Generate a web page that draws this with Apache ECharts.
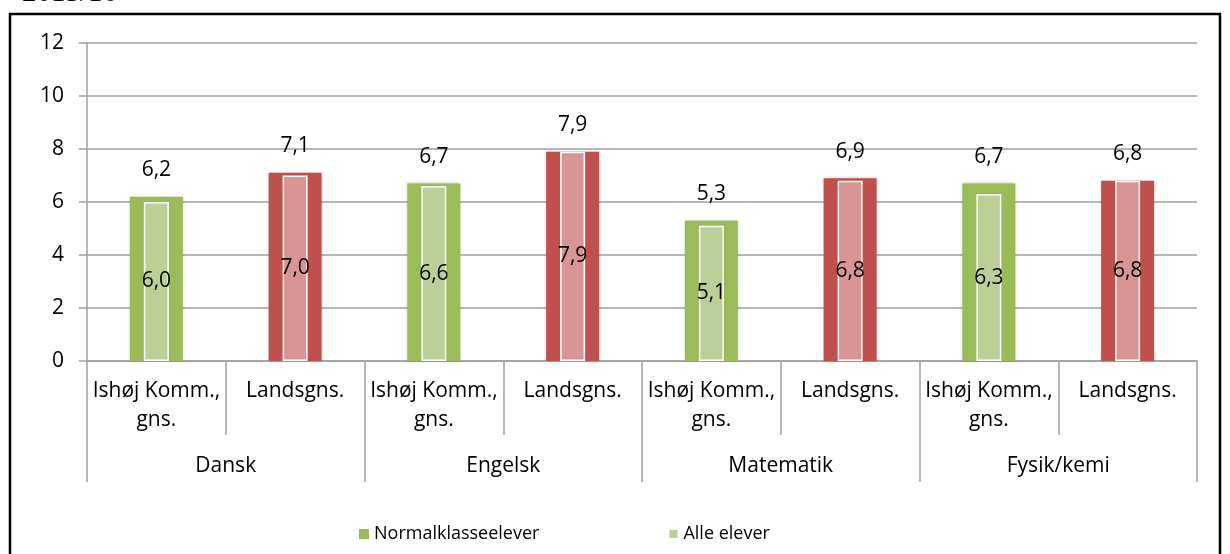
<!DOCTYPE html>
<html>
<head>
<meta charset="utf-8">
<script src="https://cdn.jsdelivr.net/npm/echarts@6/dist/echarts.min.js"></script>
<style>
html,body{margin:0;padding:0;background:#fff;}
#c{width:1230px;height:554px;}
</style>
</head>
<body>
<div id="c"></div>
<script>
// ---- data ----
const categories = ['Ishøj Komm.,\ngns.', 'Landsgns.', 'Ishøj Komm.,\ngns.', 'Landsgns.', 'Ishøj Komm.,\ngns.', 'Landsgns.', 'Ishøj Komm.,\ngns.', 'Landsgns.'];
const subjects = ['Dansk', 'Engelsk', 'Matematik', 'Fysik/kemi'];
const normalklasseelever = [6.2, 7.1, 6.7, 7.9, 5.3, 6.9, 6.7, 6.8];
const alleElever = [6.0, 7.0, 6.6, 7.9, 5.1, 6.8, 6.3, 6.8];
const yTicks = [0, 2, 4, 6, 8, 10, 12];
const seriesNames = ['Normalklasseelever', 'Alle elever'];

const FONT = 'Open Sans';
const GREEN = '#9BBB59', LGREEN = '#BCCF96', RED = '#C0504D', LRED = '#D99594';
const GRAYLINE = '#a0a0a0';
const fmt = v => v.toFixed(1).replace('.', ',');

const chart = echarts.init(document.getElementById('c'), null, {renderer: 'canvas'});
const option = {
  animation: false,
  textStyle: {fontFamily: FONT},
  graphic: [
    {type: 'rect', shape: {x: 10, y: 14, width: 1210, height: 560}, style: {fill: 'none', stroke: '#000', lineWidth: 2.5}, z: 100},
    {type: 'text', left: 22, top: -21, style: {text: '2015/16', font: '29px "Liberation Serif"', fill: '#000'}}
  ],
  grid: {left: 87, right: 33, top: 43, bottom: 193, containLabel: false},
  legend: {
    left: 354, top: 520, itemWidth: 10, itemHeight: 10, itemGap: 128,
    icon: 'rect',
    textStyle: {fontSize: 18, color: '#000', fontFamily: FONT},
    data: seriesNames
  },
  xAxis: [
    {
      type: 'category', data: categories, position: 'bottom',
      axisLine: {lineStyle: {color: GRAYLINE, width: 1.5}},
      axisTick: {show: true, interval: 0, length: 74, lineStyle: {color: GRAYLINE, width: 1.5}},
      axisLabel: {interval: 0, color: '#000', fontSize: 21, lineHeight: 29, margin: 16}
    },
    {
      type: 'category', data: subjects, position: 'bottom',
      axisLine: {show: false},
      axisTick: {show: true, interval: 0, length: 121, lineStyle: {color: GRAYLINE, width: 1.5}},
      axisLabel: {interval: 0, color: '#000', fontSize: 21, lineHeight: 29, margin: 91}
    },
    {
      type: 'category', data: categories, show: false
    }
  ],
  yAxis: {
    type: 'value', min: 0, max: 12, interval: 2,
    axisLine: {show: true, lineStyle: {color: GRAYLINE, width: 1.5}},
    axisTick: {show: true, length: 8, lineStyle: {color: GRAYLINE, width: 1.5}},
    splitLine: {lineStyle: {color: GRAYLINE, width: 1.5}},
    axisLabel: {color: '#000', fontSize: 21, margin: 23,
      formatter: v => yTicks.includes(v) ? String(v) : ''}
  },
  series: [
    {
      name: seriesNames[0], type: 'bar', xAxisIndex: 0, barWidth: 53, z: 2,
      itemStyle: {color: GREEN, shadowBlur: 3, shadowColor: 'rgba(0,0,0,0.25)'},
      data: normalklasseelever.map((v, i) => ({value: v, itemStyle: {color: i % 2 ? RED : GREEN}})),
      label: {show: true, position: 'top', distance: 16, color: '#000', fontSize: 21, formatter: p => fmt(p.value)}
    },
    {
      name: seriesNames[1], type: 'bar', xAxisIndex: 2, barWidth: 25, z: 3,
      itemStyle: {color: LGREEN, borderColor: '#fff', borderWidth: 1.5},
      data: alleElever.map((v, i) => ({value: v, itemStyle: {color: i % 2 ? LRED : LGREEN}})),
      label: {show: true, position: 'inside', color: '#000', fontSize: 21, formatter: p => fmt(p.value)}
    }
  ]
};
chart.setOption(option);
</script>
</body>
</html>
